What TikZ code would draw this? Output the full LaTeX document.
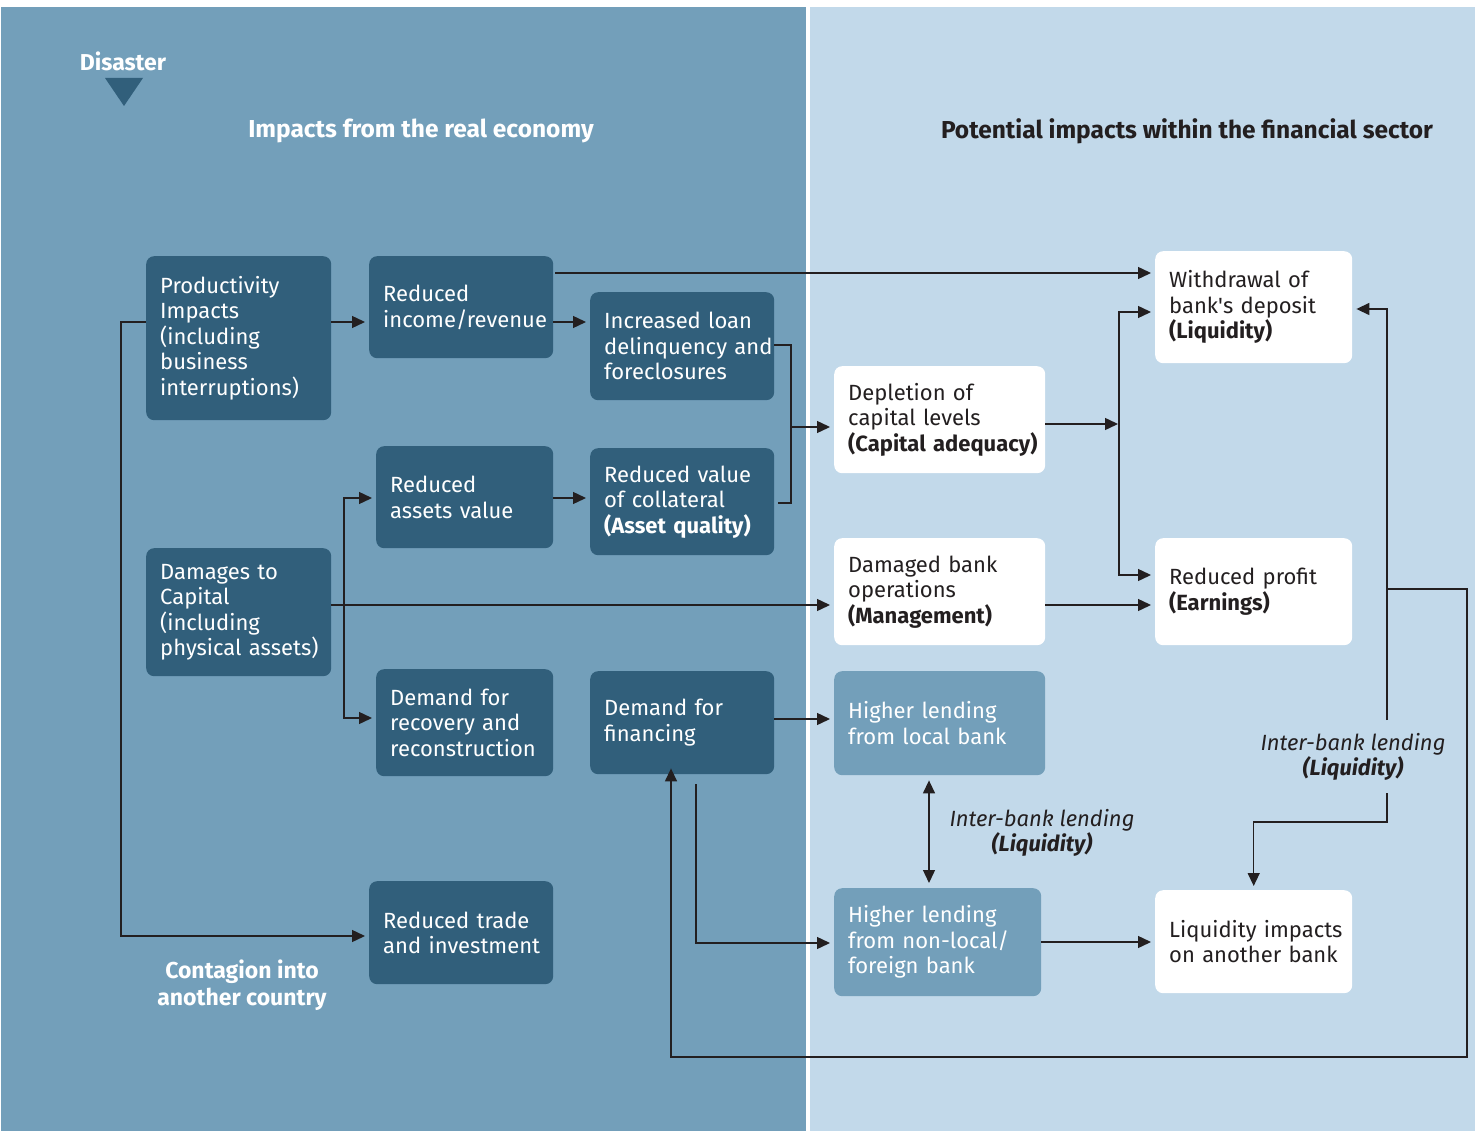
\documentclass[tikz,border=0pt]{standalone}
\usepackage{fontspec}
\setmainfont{Fira Sans}
\usetikzlibrary{arrows.meta}

\definecolor{panelL}{HTML}{739FBA}
\definecolor{panelR}{HTML}{C2D9EA}
\definecolor{boxdark}{HTML}{315F7B}
\definecolor{ink}{HTML}{231F20}

\hyphenpenalty=10000
\exhyphenpenalty=10000

\begin{document}
\begin{tikzpicture}[x=1pt, y=-1pt,
					>={Triangle[length=13pt, width=12pt]},
					every node/.style={font=\fontsize{22}{25.5}\selectfont},
					box/.style={anchor=north west, rounded corners=8pt, inner xsep=14pt, inner ysep=0pt, align=left},
					dark/.style={box, fill=boxdark, text=white},
					pale/.style={box, fill=panelL, text=white},
					plain/.style={box, fill=white, text=ink},
					link/.style={draw=ink, line width=1.4pt, shorten >=4pt},
					head/.style={font=\fontsize{24.5}{27}\selectfont\bfseries, align=center},
					ibl/.style={text=ink, align=center}]

	\useasboundingbox (0,0) rectangle (1475,1131);
	\fill[white] (0,0) rectangle (1475,1131);
	\fill[panelL] (1,7) rectangle (806,1131);
	\fill[panelR] (810,7) rectangle (1475,1131);

	% headings
	\node[head, text=white, font=\fontsize{23}{27}\selectfont\bfseries] (disaster) at (123,61) {Disaster};
	\fill[boxdark] (105,78) -- (143,78) -- (124,106) -- cycle;
	\node[head, text=white] (realhead) at (421,131) {Impacts from the real economy};
	\node[head, text=ink] (finhead) at (1187,131) {Potential impacts within the financial sector};
	\node[head, text=white, font=\fontsize{23}{27}\selectfont\bfseries] (contagion) at (242,985) {Contagion into\\another country};

	% real economy
	\node[dark, text width=157pt, minimum height=164pt] (prod) at (146,256) {Productivity\\Impacts\\(including\\business\\interruptions)};
	\node[dark, text width=156pt, minimum height=102pt] (redinc) at (369,256) {Reduced\\income/revenue};
	\node[dark, text width=156pt, minimum height=108pt] (incloan) at (590,292) {Increased~loan\\delinquency~and\\foreclosures};
	\node[dark, text width=149pt, minimum height=102pt] (redassets) at (376,446) {Reduced\\assets~value};
	\node[dark, text width=156pt, minimum height=107pt] (redcoll) at (590,448) {Reduced~value\\of~collateral\\\textbf{(Asset~quality)}};
	\node[dark, text width=157pt, minimum height=128pt] (damages) at (146,548) {Damages~to\\Capital\\(including\\physical~assets)};
	\node[dark, text width=149pt, minimum height=107pt] (recovery) at (376,669) {Demand~for\\recovery~and\\reconstruction};
	\node[dark, text width=156pt, minimum height=103pt] (financing) at (590,671) {Demand~for\\financing};
	\node[dark, text width=156pt, minimum height=103pt] (trade) at (369,881) {Reduced~trade\\and~investment};

	% financial sector
	\node[plain, text width=183pt, minimum height=107pt] (depletion) at (834,366) {Depletion~of\\capital~levels\\\textbf{(Capital~adequacy)}};
	\node[plain, text width=183pt, minimum height=107pt] (damagedops) at (834,538) {Damaged~bank\\operations\\\textbf{(Management)}};
	\node[pale, text width=183pt, minimum height=104pt] (local) at (834,671) {Higher~lending\\from~local~bank};
	\node[pale, text width=179pt, minimum height=108pt] (nonlocal) at (834,888) {Higher~lending\\from~non-local/\\foreign~bank};
	\node[plain, text width=169pt, minimum height=112pt] (withdrawal) at (1155,251) {Withdrawal~of\\bank\textquotesingle s~deposit\\\textbf{(Liquidity)}};
	\node[plain, text width=169pt, minimum height=107pt] (profit) at (1155,538) {Reduced~profit\\\textbf{(Earnings)}};
	\node[plain, text width=169pt, minimum height=103pt] (liqimp) at (1155,890) {Liquidity~impacts\\on~another~bank};

	\node[ibl] (ibmid) at (1042,833) {\textit{Inter-bank lending}\\\textbf{\textit{(Liquidity)}}};
	\node[ibl] (ibright) at (1353,757) {\textit{Inter-bank lending}\\\textbf{\textit{(Liquidity)}}};
	\coordinate (ibtop) at (1387,720);
	\coordinate (ibbot) at (1387,793);

	% connectors
	\draw[link, ->] (prod.east |- 0,322) -- (redinc.west |- 0,322);
	\draw[link, ->] (prod.west |- 0,322) -- (121,322) |- (trade.west |- 0,936);
	\draw[link, ->] (redinc.east |- 0,322) -- (incloan.west |- 0,322);
	\draw[link, ->, shorten <=2pt] (redinc.east |- 0,273) -- (withdrawal.west |- 0,273);
	\draw[link] (incloan.east |- 0,345) -- (791,345) -- (791,503) -- (redcoll.east |- 0,503);
	\draw[link, ->] (791,427) -- (depletion.west |- 0,427);
	\draw[link, ->] (redassets.east |- 0,498) -- (redcoll.west |- 0,498);
	\draw[link, ->] (damages.east |- 0,605) -- (damagedops.west |- 0,605);
	\draw[link, <->, shorten <=4pt] (redassets.west |- 0,498) -| (344,718) -- (recovery.west |- 0,718);
	\draw[link, ->, shorten >=1pt] (depletion.east |- 0,424) -- (1119,424);
	\draw[link, <->, shorten <=4pt] (withdrawal.west |- 0,312) -| (1119,575) -- (profit.west |- 0,575);
	\draw[link, ->] (damagedops.east |- 0,605) -- (profit.west |- 0,605);
	\draw[link, ->] (financing.east |- 0,719) -- (local.west |- 0,719);
	\draw[link, ->, shorten <=10pt] (financing.south -| 696,0) |- (nonlocal.west |- 0,943);
	\draw[link, <->, shorten <=5pt, shorten >=5pt] (local.south -| 929,0) -- (nonlocal.north -| 929,0);
	\draw[link, ->] (nonlocal.east |- 0,942) -- (liqimp.west |- 0,942);
	\draw[link, ->] (ibtop) |- (withdrawal.east |- 0,309);
	\draw[link, ->] (ibbot) |- (liqimp.north |- 0,822) -- (liqimp.north);
	\draw[link, ->, shorten >=-6pt] (1387,589) -- (1467,589) |- (671,1057) -- (financing.south -| 671,0);
\end{tikzpicture}
\end{document}
